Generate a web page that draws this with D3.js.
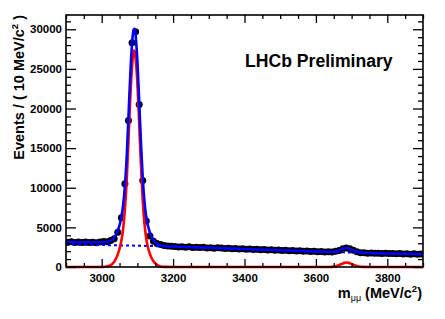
<!DOCTYPE html>
<html lang="en">
<head>
<meta charset="UTF-8">
<title>Dimuon mass fit</title>
<script src="https://d3js.org/d3.v7.min.js"></script>
<style>
  body { margin: 0; background: #fff; }
  svg { display: block; font-family: "Liberation Sans", Arial, Helvetica, sans-serif; font-weight: bold; }
</style>
</head>
<body>
<svg id="chart" width="445" height="319"></svg>
<script>
// histogram: 100 bins of 10 MeV from 2900 to 3900
const binLow = 2900, binWidth = 10;
const counts = [
  3120, 3180, 3100, 3160, 3090, 3140, 3080, 3120, 3070, 3170,
  3220, 3200, 3330, 3560, 4400, 6200, 10500, 18500, 28300, 29700,
  20500, 10900, 5800, 3900, 3250, 2980, 2830, 2700, 2650, 2610,
  2600, 2530, 2560, 2500, 2540, 2470, 2500, 2450, 2490, 2410,
  2440, 2380, 2420, 2390, 2330, 2360, 2310, 2330, 2270, 2300,
  2250, 2270, 2210, 2240, 2180, 2200, 2150, 2170, 2110, 2140,
  2090, 2110, 2050, 2080, 2020, 2040, 1990, 2020, 1960, 1980,
  1930, 1950, 1900, 1920, 1890, 1980, 2090, 2290, 2410, 2290,
  2100, 1930, 1800, 1800, 1750, 1770, 1720, 1750, 1700, 1730,
  1690, 1710, 1660, 1690, 1650, 1670, 1620, 1660, 1610, 1640
];

// fit curves
const curveMass = [
  2900, 2950, 3000, 3010, 3020, 3030, 3035, 3040, 3045, 3050,
  3055, 3060, 3065, 3070, 3075, 3080, 3085, 3088, 3091, 3094,
  3097, 3100, 3105, 3110, 3115, 3120, 3125, 3130, 3135, 3140,
  3145, 3150, 3160, 3170, 3180, 3200, 3250, 3300, 3350, 3400,
  3450, 3500, 3550, 3600, 3620, 3640, 3650, 3660, 3670, 3680,
  3686, 3692, 3700, 3710, 3720, 3730, 3750, 3800, 3850, 3900
];
const curveTotal = [
  3140, 3120, 3120, 3150, 3230, 3450, 3680, 4050, 4580, 5280,
  6280, 7800, 10250, 13850, 18950, 24200, 28150, 29600, 30050, 29750,
  28100, 26000, 20950, 15650, 11190, 8170, 6250, 5140, 4370, 3810,
  3410, 3130, 2810, 2676, 2628, 2580, 2495, 2420, 2345, 2270,
  2190, 2110, 2030, 1955, 1925, 1905, 1928, 2019, 2196, 2363,
  2395, 2348, 2198, 1986, 1854, 1795, 1760, 1710, 1665, 1625
];
const curveSignal = [
  0, 0, 8, 30, 120, 400, 650, 1050, 1600, 2300,
  3300, 4800, 7300, 10900, 16000, 21300, 25300, 26800, 27300, 26800,
  25300, 23200, 18150, 12850, 8400, 5400, 3500, 2400, 1650, 1100,
  720, 450, 150, 40, 10, 0, 0, 0, 0, 0,
  0, 0, 0, 0, 0, 8, 45, 150, 340, 520,
  560, 520, 380, 180, 60, 13, 0, 0, 0, 0
];
const curveBkg = [
  2850, 2810, 2770, 2762, 2754, 2746, 2742, 2738, 2734, 2730,
  2726, 2722, 2718, 2714, 2710, 2705, 2700, 2698, 2695, 2692,
  2690, 2687, 2682, 2677, 2672, 2667, 2661, 2655, 2649, 2643,
  2637, 2631, 2619, 2606, 2593, 2566, 2495, 2420, 2345, 2270,
  2190, 2110, 2030, 1955, 1925, 1897, 1883, 1869, 1856, 1843,
  1835, 1828, 1818, 1806, 1794, 1782, 1760, 1710, 1665, 1625
];

const xMajorTicks = [3000, 3200, 3400, 3600, 3800];
const yMajorTicks = [0, 5000, 10000, 15000, 20000, 25000, 30000];

const svg = d3.select('#chart');
const plotL = 66, plotR = 423, plotT = 15, plotB = 267;

const x = d3.scaleLinear().domain([2900, 3900]).range([plotL, plotR]);
const y = d3.scaleLinear().domain([0, 31800]).range([plotB, plotT]);

const xMinor = d3.range(2900, 3901, 50).filter(v => !xMajorTicks.includes(v));
const yMinor = d3.range(0, 31001, 1000).filter(v => !yMajorTicks.includes(v));

// clip for curves (a bit below the frame so the zero level shows on the axis)
svg.append('clipPath').attr('id', 'plotClip')
  .append('rect')
  .attr('x', plotL).attr('y', plotT)
  .attr('width', plotR - plotL).attr('height', plotB - plotT + 2);

const plot = svg.append('g').attr('clip-path', 'url(#plotClip)');

// data points
const binData = counts.map((c, i) => ({ m: binLow + binWidth * (i + 0.5), n: c }));
plot.selectAll('circle.pt')
  .data(binData)
  .join('circle')
  .attr('class', 'pt')
  .attr('cx', d => x(d.m))
  .attr('cy', d => y(d.n))
  .attr('r', 3.5)
  .attr('fill', '#000');

function curvePath(values) {
  return d3.line()
    .x((d, i) => x(curveMass[i]))
    .y(d => y(d))
    .curve(d3.curveMonotoneX)(values);
}

plot.append('path')
  .attr('d', curvePath(curveBkg))
  .attr('fill', 'none')
  .attr('stroke', '#0000ff')
  .attr('stroke-width', 2)
  .attr('stroke-dasharray', '3,3');

plot.append('path')
  .attr('d', curvePath(curveSignal))
  .attr('fill', 'none')
  .attr('stroke', '#ff0000')
  .attr('stroke-width', 2.6);

plot.append('path')
  .attr('d', curvePath(curveTotal))
  .attr('fill', 'none')
  .attr('stroke', '#0000ff')
  .attr('stroke-width', 2.6);

// axes with ticks pointing into the frame
function styleAxis(g) {
  g.select('.domain').remove();
  g.selectAll('.tick line').attr('stroke', '#000').attr('stroke-width', 1.3);
  g.selectAll('.tick text')
    .attr('fill', '#000')
    .style('font-size', '11.5px')
    .style('font-weight', 'bold');
}

svg.append('g').attr('transform', `translate(0,${plotB})`)
  .call(d3.axisBottom(x).tickValues(xMinor).tickSize(-4).tickFormat(''))
  .call(styleAxis);
svg.append('g').attr('transform', `translate(0,${plotB})`)
  .call(d3.axisBottom(x).tickValues(xMajorTicks).tickSize(-8).tickPadding(7).tickFormat(d3.format('d')))
  .call(styleAxis);
svg.append('g').attr('transform', `translate(0,${plotT})`)
  .call(d3.axisTop(x).tickValues(xMinor).tickSize(-4).tickFormat(''))
  .call(styleAxis);
svg.append('g').attr('transform', `translate(0,${plotT})`)
  .call(d3.axisTop(x).tickValues(xMajorTicks).tickSize(-8).tickFormat(''))
  .call(styleAxis);

svg.append('g').attr('transform', `translate(${plotL},0)`)
  .call(d3.axisLeft(y).tickValues(yMinor).tickSize(-5).tickFormat(''))
  .call(styleAxis);
svg.append('g').attr('transform', `translate(${plotL},0)`)
  .call(d3.axisLeft(y).tickValues(yMajorTicks).tickSize(-10).tickPadding(4).tickFormat(d3.format('d')))
  .call(styleAxis);
svg.append('g').attr('transform', `translate(${plotR},0)`)
  .call(d3.axisRight(y).tickValues(yMinor).tickSize(-5).tickFormat(''))
  .call(styleAxis);
svg.append('g').attr('transform', `translate(${plotR},0)`)
  .call(d3.axisRight(y).tickValues(yMajorTicks).tickSize(-10).tickFormat(''))
  .call(styleAxis);

// frame
svg.append('rect')
  .attr('x', plotL).attr('y', plotT)
  .attr('width', plotR - plotL).attr('height', plotB - plotT)
  .attr('fill', 'none')
  .attr('stroke', '#000')
  .attr('stroke-width', 1.6);

// labels
svg.append('text')
  .attr('x', 245).attr('y', 67)
  .style('font-size', '17.6px')
  .text('LHCb Preliminary');

const yLab = svg.append('text')
  .attr('transform', `translate(24,${plotT}) rotate(-90)`)
  .attr('text-anchor', 'end')
  .style('font-size', '14.5px');
yLab.append('tspan').text('Events / ( 10 MeV/c');
yLab.append('tspan').attr('dy', -6).style('font-size', '9.5px').text('2');
yLab.append('tspan').attr('dy', 6).text(' )');

const xLab = svg.append('text')
  .attr('x', 422).attr('y', 298)
  .attr('text-anchor', 'end')
  .style('font-size', '14.5px');
xLab.append('tspan').text('m');
xLab.append('tspan').attr('dy', 3).style('font-size', '9px').style('font-weight', 'normal').text('μμ');
xLab.append('tspan').attr('dy', -3).text(' (MeV/c');
xLab.append('tspan').attr('dy', -6).style('font-size', '9.5px').text('2');
xLab.append('tspan').attr('dy', 6).text(')');
</script>
</body>
</html>
